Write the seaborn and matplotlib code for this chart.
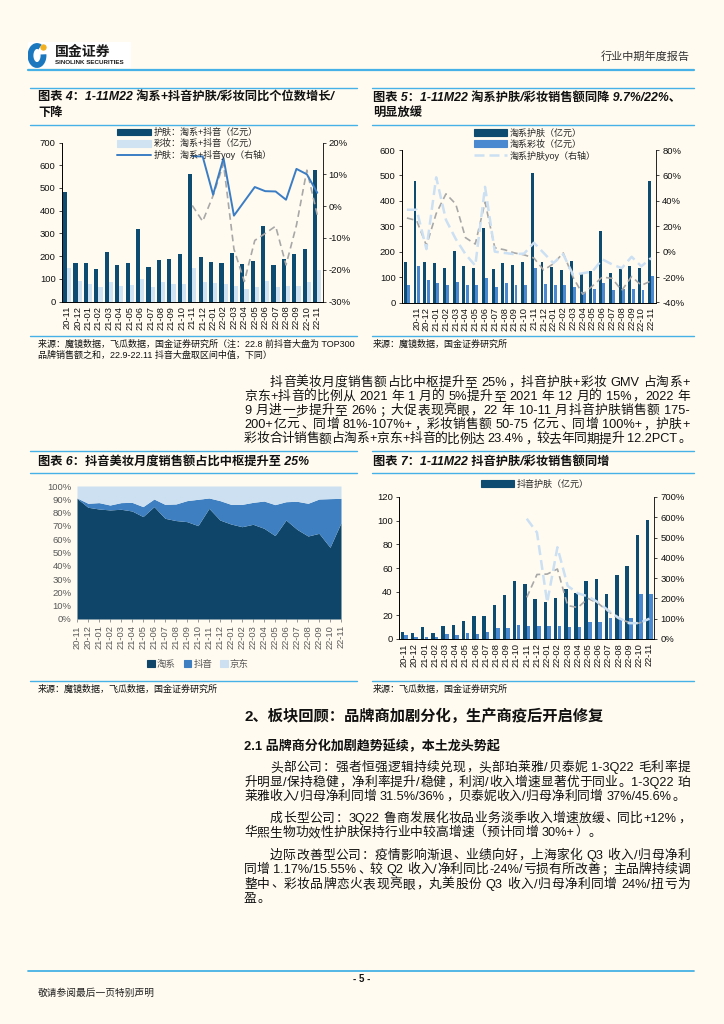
import numpy as np
import pandas as pd
import matplotlib
matplotlib.use("Agg")
import matplotlib.pyplot as plt
import seaborn as sns
from matplotlib.lines import Line2D
from matplotlib.patches import Patch, Rectangle, Circle, Arc

nan = np.nan

# ---------------- data ----------------
months = ["20-11", "20-12", "21-01", "21-02", "21-03", "21-04", "21-05", "21-06", "21-07",
          "21-08", "21-09", "21-10", "21-11", "21-12", "22-01", "22-02", "22-03", "22-04",
          "22-05", "22-06", "22-07", "22-08", "22-09", "22-10", "22-11"]

# Figure 4: Taobao+Douyin skincare / makeup (100m yuan) and yoy (%)
c4_skin = [483, 168, 168, 143, 216, 160, 168, 320, 152, 183, 188, 208, 560, 196, 172, 168,
           212, 163, 180, 333, 160, 186, 208, 230, 580]
c4_makeup = [147, 90, 77, 65, 85, 70, 72, 100, 65, 85, 75, 78, 148, 85, 80, 75, 70, 55, 65,
             90, 65, 70, 70, 85, 138]
c4_skin_yoy = [nan] * 12 + [15.7, 15.6, 3.6, 15.1, -3.0, 1.5, 6.0, 4.7, 4.6, 2.0, 11.7, 10.0, 4.2]
c4_makeup_yoy = [nan] * 12 + [0.2, -4.8, 3.3, 13.3, -13.5, -23.7, -10.8, -8.6, -6.3, -18.5, -6.0, 11.3, -2.8]
c4_left_ticks = [0, 100, 200, 300, 400, 500, 600, 700]
c4_right_ticks = [-30, -20, -10, 0, 10, 20]

# Figure 5: Taobao skincare / makeup (100m yuan) and yoy (%)
c5_months = ["20-10"] + months
c5_ticklabels = [""] + months
c5_skin = [159, 477, 158, 154, 137, 203, 145, 137, 293, 132, 154, 146, 158, 508, 158, 140,
           128, 164, 111, 123, 281, 118, 131, 144, 137, 479]
c5_makeup = [67, 142, 87, 75, 69, 80, 67, 69, 95, 62, 75, 67, 67, 136, 74, 69, 69, 61, 41,
             52, 75, 49, 52, 52, 48, 104]
c5_skin_yoy = [33, 33, 2, 58.5, 25, 10, -2, -11, 51, 0, -1, -2, -1.5, 7, -1, -9, -2, -18,
               -17, -15.5, -6, -10, -13, -4, -11.5, -5]
c5_makeup_yoy = [26.5, 24.5, 4.8, 30, 45.5, 37.5, 11, 6, 39, 3, 1.5, -1, -2.5, -5, -14.5,
                 -9.5, -1, -20, -33.5, -27, -20, -21, -30.5, -19.5, -26.5, -23]
c5_left_ticks = [0, 100, 200, 300, 400, 500, 600]
c5_right_ticks = [-40, -20, 0, 20, 40, 60, 80]

# Figure 6: share of monthly beauty GMV (%)
c6_taobao = [90.7, 84.0, 82.7, 82.0, 82.5, 81.2, 77.0, 84.5, 75.7, 74.0, 73.2, 70.2, 83.2,
             74.4, 71.4, 69.4, 71.2, 68.2, 62.7, 74.4, 67.4, 62.4, 64.4, 53.9, 72.4]
c6_douyin = [0.3, 3.0, 4.8, 3.7, 5.0, 6.5, 7.5, 5.7, 10.5, 12.5, 15.8, 19.8, 7.8, 14.6, 14.8,
             16.8, 16.5, 20.5, 23.3, 13.8, 21.1, 24.6, 25.8, 36.6, 18.3]
c6_jd = [9.0, 13.0, 12.5, 14.3, 12.5, 12.3, 15.5, 9.8, 13.8, 13.5, 11.0, 10.0, 9.0, 11.0,
         13.8, 13.8, 12.3, 11.3, 14.0, 11.8, 11.5, 13.0, 9.8, 9.5, 9.3]
c6_ticks = [0, 10, 20, 30, 40, 50, 60, 70, 80, 90, 100]

# Figure 7: Douyin skincare / makeup (100m yuan) and yoy (%)
c7_skin = [6.2, 4.8, 10.4, 5.3, 11.2, 11.8, 14.9, 19.7, 19.4, 28.7, 36.8, 48.9, 46.9, 33.4,
           31.2, 34.3, 41.9, 39.0, 49.2, 50.8, 37.9, 54.2, 62.1, 87.9, 100.3]
c7_makeup = [3.7, 2.0, 2.0, 1.4, 3.9, 3.4, 4.8, 4.5, 6.2, 9.6, 9.6, 11.5, 11.2, 11.2, 11.2,
             11.2, 10.1, 9.8, 14.0, 14.0, 17.4, 17.4, 17.4, 37.9, 37.9]
c7_skin_yoy = [nan] * 12 + [593, 525, 180, 452, 262, 225, 210, 180, 140, 104, 78, 78, 100]
c7_makeup_yoy = [nan] * 12 + [205, 318, 320, 345, 165, 155, 200, 175, 135, 100, 82, 78, 100]
c7_left_ticks = [0, 20, 40, 60, 80, 100, 120]
c7_right_ticks = [0, 100, 200, 300, 400, 500, 600, 700]

# ---------------- style ----------------
BG = "#FFFBF0"
DARK = "#0D4B70"
LIGHT4 = "#CFE3F3"
BLUE_LINE = "#3B7DC4"
GRAY = "#A8A8A8"
MID = "#4A88CF"
LIGHT_DASH = "#CCE0F3"
C6_DARK = "#0E4568"
C6_MID = "#3D7FC1"
C6_LIGHT = "#CCE0F2"
RULE = "#45B1E6"
TICK_FS = 6.8
XTICK_FS = 6.7

sns.set_theme(style="white", context="paper",
              rc={"axes.facecolor": BG, "figure.facecolor": BG, "savefig.facecolor": BG})
FONT = ["Liberation Sans", "Noto Sans CJK SC", "DejaVu Sans"]
plt.rcParams["font.family"] = FONT
plt.rcParams["axes.unicode_minus"] = False

W, H = 724, 1024
PX = 100 / 72
fig = plt.figure(figsize=(W / 100, H / 100), dpi=100, facecolor=BG)
renderer = fig.canvas.get_renderer()


def fx(x):
    return x / W


def fy(y):
    return 1 - y / H


def add_ax(x0, y0, x1, y1):
    ax = fig.add_axes([fx(x0), fy(y1), (x1 - x0) / W, (y1 - y0) / H])
    ax.set_facecolor("none")
    return ax


def hline(x0, x1, y, color=RULE, lw=1.0):
    fig.add_artist(Line2D([fx(x0), fx(x1)], [fy(y), fy(y)], color=color, lw=lw))


def txt(x, y, s, size=9.3, weight="normal", ha="left", color="#111111", style="normal"):
    fig.text(fx(x), fy(y), s, fontsize=size, fontweight=weight, ha=ha, va="center",
             color=color, family=FONT, fontstyle=style)


OPEN_P = "（“"
CLOSE_P = "，。；：、）”"


def is_cjk(ch):
    return len(ch) == 1 and ord(ch) >= 0x2E80


def tokens_of(s):
    toks, cur = [], ""
    for ch in s:
        if ch == " ":
            if cur:
                toks.append(cur)
                cur = ""
            toks.append(" ")
        elif is_cjk(ch):
            if cur:
                toks.append(cur)
                cur = ""
            toks.append(ch)
        else:
            cur += ch
    if cur:
        toks.append(cur)
    return toks


def jtxt(x0, x1, y, s, size=9.3, justify=True, color="#111111"):
    """Justified line: CJK chars take one em, latin runs their measured width."""
    em = size * PX
    base = fy(y + em * 0.36)
    items = []
    for t in tokens_of(s):
        if t == " ":
            items.append((None, em * 0.25, "sp"))
        elif is_cjk(t):
            o = fig.text(0, base, t, fontsize=size, va="baseline", color=color, family=FONT)
            items.append((o, em, "cjk"))
        else:
            o = fig.text(0, base, t, fontsize=size, va="baseline", ha="left", color=color,
                         family=FONT)
            w = o.get_window_extent(renderer).width + em * 0.06
            items.append((o, w, "lat"))
    natural = sum(w for _, w, _ in items)
    gaps = len(items) - 1
    extra = (x1 - x0 - natural) / gaps if (justify and gaps > 0) else 0.0
    x = x0
    for o, w, kind in items:
        if o is not None:
            if kind == "cjk":
                ch = o.get_text()
                if ch in OPEN_P:
                    o.set_ha("right")
                    o.set_x(fx(x + em * 0.92))
                elif ch in CLOSE_P:
                    o.set_ha("left")
                    o.set_x(fx(x + em * 0.08))
                else:
                    o.set_ha("center")
                    o.set_x(fx(x + em * 0.5))
            else:
                o.set_x(fx(x + em * 0.03))
        x += w + extra


def style_axes(ax, axr, ticklabels, lab_color="#111111"):
    n = len(ticklabels)
    ax.set_xlim(-0.5, n - 0.5)
    ax.set_xticks(range(n))
    ax.set_xticklabels(ticklabels, rotation=90, fontsize=XTICK_FS, color=lab_color)
    ax.set_xticks(np.arange(-0.5, n, 1), minor=True)
    ax.tick_params(axis="x", which="major", length=0, pad=3)
    ax.tick_params(axis="x", which="minor", length=2.5, width=0.6, color="black", direction="out")
    ax.tick_params(axis="y", labelsize=TICK_FS, length=2.5, width=0.6, pad=2, direction="out",
                   labelcolor=lab_color, left=True)
    ax.set_xlabel("")
    ax.set_ylabel("")
    for a in (ax, axr):
        a.spines["top"].set_visible(False)
        for s in ("left", "right", "bottom"):
            a.spines[s].set_color("black")
            a.spines[s].set_linewidth(0.6)
    ax.spines["right"].set_visible(False)
    axr.tick_params(axis="y", labelsize=TICK_FS, length=2.5, width=0.6, pad=2, direction="out",
                    labelcolor=lab_color, right=True)
    axr.set_ylabel("")
    axr.set_xlabel("")


def bar_pair(ax, cats, s1, s2, colors, width, gap):
    df = pd.DataFrame({"cat": cats * 2, "val": s1 + s2,
                       "ser": ["a"] * len(cats) + ["b"] * len(cats)})
    sns.barplot(data=df, x="cat", y="val", hue="ser", order=cats, hue_order=["a", "b"],
                palette=colors, width=width, gap=gap, saturation=1, errorbar=None,
                legend=False, ax=ax, zorder=2, linewidth=0)


def yoy_line(axr, vals, color, lw, ls):
    d = pd.DataFrame({"x": np.arange(len(vals)), "y": vals}).dropna()
    sns.lineplot(data=d, x="x", y="y", ax=axr, color=color, linewidth=lw, linestyle=ls)


def pct(ticks):
    return [f"{t}%" for t in ticks]


# ---------------- page header ----------------
logo = add_ax(28, 42, 131, 68)
logo.set_xlim(28, 131)
logo.set_ylim(68, 42)
logo.axis("off")
logo.add_patch(Rectangle((28, 42), 103, 26, color="white", zorder=0))
logo.add_patch(Arc((37, 55.5), 13, 19, theta1=-10, theta2=290, lw=4.2, color="#1B78BE", zorder=2))
logo.add_patch(Circle((43.5, 47.5), 2.6, color="#F2B01E", zorder=3))
logo.text(55, 51.5, "国金证券", fontsize=10, fontweight="bold", va="center", ha="left",
          color="#1a1a1a", family=FONT)
logo.text(55, 62, "SINOLINK SECURITIES", fontsize=4.5, fontweight="bold", va="center",
          ha="left", color="#1a1a1a", family=FONT)
txt(690, 57, "行业中期年度报告", size=8, ha="right", color="#333333")
hline(28, 694, 70, lw=1.6)

# panel rules
for (a, b) in ((30, 357), (372, 694)):
    for y in (88, 124.5, 336, 451, 473, 681):
        hline(a, b, y)

# ---------------- Figure 4 ----------------
txt(38, 97.5, "图表 4：1-11M22 淘系+抖音护肤/彩妆同比个位数增长/", 8.8, "bold", style="italic")
txt(38, 113, "下降", 8.8, "bold", style="italic")
ax4 = add_ax(62, 142.5, 322.5, 301.5)
bar_pair(ax4, months, c4_skin, c4_makeup, [DARK, LIGHT4], 0.8, 0)
ax4.set_ylim(0, 700)
ax4.set_yticks(c4_left_ticks)
ax4r = ax4.twinx()
yoy_line(ax4r, c4_makeup_yoy, GRAY, 1.2, (0, (4, 2.5)))
yoy_line(ax4r, c4_skin_yoy, BLUE_LINE, 1.4, "-")
ax4r.set_ylim(-30, 20)
ax4r.set_yticks(c4_right_ticks)
ax4r.set_yticklabels(pct(c4_right_ticks))
style_axes(ax4, ax4r, months)
h4 = [Patch(color=DARK), Patch(color=LIGHT4), Line2D([], [], color=BLUE_LINE, lw=1.4)]
ax4r.legend(h4, ["护肤：淘系+抖音（亿元）", "彩妆：淘系+抖音（亿元）", "护肤：淘系+抖音yoy（右轴）"],
            loc="upper left", bbox_to_anchor=(fx(117), fy(128)), bbox_transform=fig.transFigure,
            frameon=False, fontsize=6.5, handlelength=3.8, handleheight=0.8, labelspacing=0.22,
            handletextpad=0.3, borderpad=0, borderaxespad=0)
txt(38, 344, "来源：魔镜数据，飞瓜数据，国金证券研究所（注：22.8 前抖音大盘为 TOP300", 6.5)
txt(38, 355.5, "品牌销售额之和，22.9-22.11 抖音大盘取区间中值，下同）", 6.5)

# ---------------- Figure 5 ----------------
txt(373, 97.5, "图表 5：1-11M22 淘系护肤/彩妆销售额同降 9.7%/22%、", 8.8, "bold", style="italic")
txt(373, 113, "明显放缓", 8.8, "bold", style="italic")
ax5 = add_ax(402, 150, 656, 302.5)
bar_pair(ax5, c5_months, c5_skin, c5_makeup, [DARK, MID], 0.68, 0.12)
ax5.set_ylim(0, 600)
ax5.set_yticks(c5_left_ticks)
ax5r = ax5.twinx()
yoy_line(ax5r, c5_makeup_yoy, GRAY, 1.2, (0, (4, 2.5)))
yoy_line(ax5r, c5_skin_yoy, LIGHT_DASH, 1.8, (0, (4, 2)))
ax5r.set_ylim(-40, 80)
ax5r.set_yticks(c5_right_ticks)
ax5r.set_yticklabels(pct(c5_right_ticks))
style_axes(ax5, ax5r, c5_ticklabels)
h5 = [Patch(color=DARK), Patch(color=MID), Line2D([], [], color=LIGHT_DASH, lw=1.8, linestyle=(0, (4, 2)))]
ax5r.legend(h5, ["淘系护肤（亿元）", "淘系彩妆（亿元）", "淘系护肤yoy（右轴）"],
            loc="upper left", bbox_to_anchor=(fx(474), fy(128.5)), bbox_transform=fig.transFigure,
            frameon=False, fontsize=6.5, handlelength=3.6, handleheight=0.8, labelspacing=0.22,
            handletextpad=0.3, borderpad=0, borderaxespad=0)
txt(373, 344, "来源：魔镜数据，国金证券研究所", 6.5)

# ---------------- body paragraph ----------------
para1 = [
    (270, "抖音美妆月度销售额占比中枢提升至 25%，抖音护肤+彩妆 GMV 占淘系+"),
    (244, "京东+抖音的比例从 2021 年 1 月的 5%提升至 2021 年 12 月的 15%，2022 年"),
    (244, "9 月进一步提升至 26%；大促表现亮眼，22 年 10-11 月抖音护肤销售额 175-"),
    (244, "200+亿元、同增 81%-107%+，彩妆销售额 50-75 亿元、同增 100%+，护肤+"),
    (244, "彩妆合计销售额占淘系+京东+抖音的比例达 23.4%，较去年同期提升 12.2PCT。"),
]
for i, (x, s) in enumerate(para1):
    jtxt(x, 690, 381 + 14.2 * i, s, 9.2)

# ---------------- Figure 6 ----------------
txt(38, 461.5, "图表 6：抖音美妆月度销售额占比中枢提升至 25%", 8.8, "bold", style="italic")
ax6 = add_ax(77, 486, 341, 619)
ax6.stackplot(np.arange(len(months)), c6_taobao, c6_douyin, c6_jd,
              colors=[C6_DARK, C6_MID, C6_LIGHT], linewidth=0)
ax6.set_xlim(0, len(months) - 1)
ax6.set_ylim(0, 100)
ax6.set_yticks(c6_ticks)
ax6.set_yticklabels(pct(c6_ticks))
ax6.set_xticks(range(len(months)))
ax6.set_xticklabels(months, rotation=90, fontsize=XTICK_FS, color="#595959")
ax6.tick_params(axis="x", length=2.5, width=0.6, color="#888888", pad=2, bottom=True)
ax6.tick_params(axis="y", labelsize=TICK_FS, labelcolor="#595959", length=0, pad=4)
for s in ax6.spines.values():
    s.set_visible(False)
h6 = [Patch(color=C6_DARK), Patch(color=C6_MID), Patch(color=C6_LIGHT)]
ax6.legend(h6, ["淘系", "抖音", "京东"], loc="center", bbox_to_anchor=(fx(198), fy(664)),
           bbox_transform=fig.transFigure, ncol=3, frameon=False, fontsize=6.8,
           handlelength=0.8, handleheight=0.8, handletextpad=0.25, columnspacing=0.8,
           labelcolor="#595959", borderpad=0)
txt(38, 689.5, "来源：魔镜数据，飞瓜数据，国金证券研究所", 6.5)

# ---------------- Figure 7 ----------------
txt(373, 461.5, "图表 7：1-11M22 抖音护肤/彩妆销售额同增", 8.8, "bold", style="italic")
ax7 = add_ax(399, 497, 654.5, 639)
bar_pair(ax7, months, c7_skin, c7_makeup, [DARK, MID], 0.72, 0.05)
ax7.set_ylim(0, 120)
ax7.set_yticks(c7_left_ticks)
ax7r = ax7.twinx()
yoy_line(ax7r, c7_makeup_yoy, GRAY, 1.2, (0, (4, 2.5)))
yoy_line(ax7r, c7_skin_yoy, LIGHT_DASH, 1.8, (0, (4, 2)))
ax7r.set_ylim(0, 700)
ax7r.set_yticks(c7_right_ticks)
ax7r.set_yticklabels(pct(c7_right_ticks))
style_axes(ax7, ax7r, months)
ax7r.legend([Patch(color=DARK)], ["抖音护肤（亿元）"], loc="center left",
            bbox_to_anchor=(fx(481), fy(484.5)), bbox_transform=fig.transFigure,
            frameon=False, fontsize=6.5, handlelength=3.6, handleheight=0.8,
            handletextpad=0.3, borderpad=0, borderaxespad=0)
txt(373, 689.5, "来源：飞瓜数据，国金证券研究所", 6.5)

# ---------------- section text ----------------
txt(244, 716, "2、板块回顾：品牌商加剧分化，生产商疫后开启修复", 11, "bold")
txt(244, 746, "2.1 品牌商分化加剧趋势延续，本土龙头势起", 9.4, "bold")
body = [
    (270, 766.5, "头部公司：强者恒强逻辑持续兑现，头部珀莱雅/贝泰妮 1-3Q22 毛利率提", True),
    (244, 781, "升明显/保持稳健，净利率提升/稳健，利润/收入增速显著优于同业。1-3Q22 珀", True),
    (244, 795.5, "莱雅收入/归母净利同增 31.5%/36%，贝泰妮收入/归母净利同增 37%/45.6%。", False),
    (270, 817, "成长型公司：3Q22 鲁商发展化妆品业务淡季收入增速放缓、同比+12%，", True),
    (244, 831.5, "华熙生物功效性护肤保持行业中较高增速（预计同增 30%+）。", False),
    (270, 854, "边际改善型公司：疫情影响渐退、业绩向好，上海家化 Q3 收入/归母净利", True),
    (244, 868.5, "同增 1.17%/15.55%、较 Q2 收入/净利同比-24%/亏损有所改善；主品牌持续调", True),
    (244, 883, "整中、彩妆品牌恋火表现亮眼，丸美股份 Q3 收入/归母净利同增 24%/扭亏为", True),
    (244, 897.5, "盈。", False),
]
for x, y, s, j in body:
    jtxt(x, 690, y, s, 9.2, justify=j)

# ---------------- footer ----------------
hline(28, 694, 970.5, lw=1.3)
txt(362, 979.5, "- 5 -", 7, "bold", ha="center")
txt(38, 993, "敬请参阅最后一页特别声明", 7, color="#222222")

fig.savefig("out.png", dpi=100, facecolor=BG)
